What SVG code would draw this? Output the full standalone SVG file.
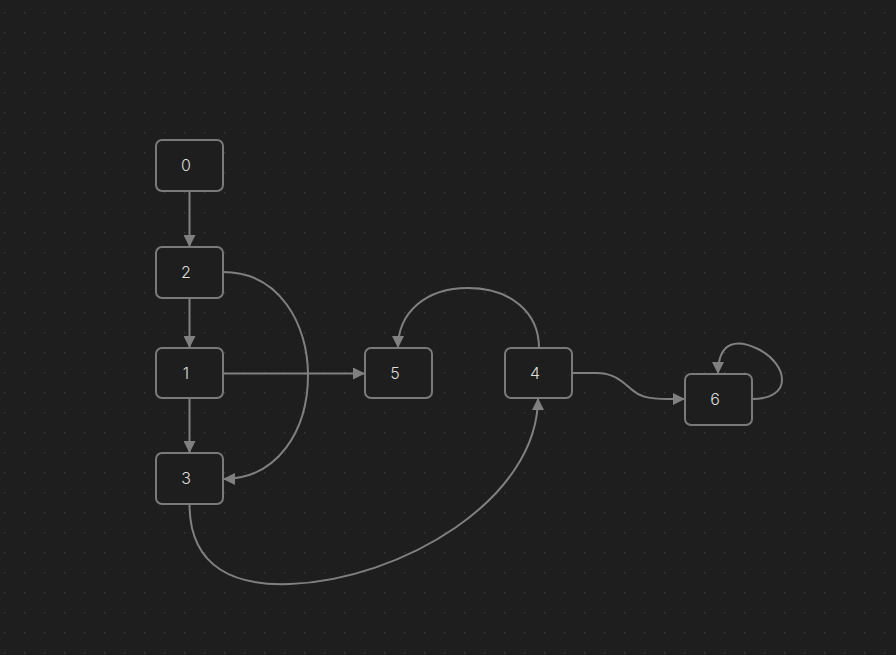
<svg xmlns="http://www.w3.org/2000/svg" width="896" height="655" viewBox="0 0 896 655">
<defs>
<pattern id="dots" x="0" y="0" width="20" height="20" patternUnits="userSpaceOnUse">
<rect x="4" y="12" width="1.3" height="1.3" fill="#3a3a3a"/>
</pattern>
<marker id="arr" viewBox="0 0 12 12" refX="12" refY="6" markerWidth="12" markerHeight="12" markerUnits="userSpaceOnUse" orient="auto">
<path d="M0,0 L12,6 L0,12 Z" fill="#808080"/>
</marker>
<style>
.n rect{fill:#1e1e1e;stroke:#7a7a7a;stroke-width:2}
.n text{fill:#dcdcdc;font-family:Inter,"Liberation Sans",sans-serif;font-size:16px;font-weight:300;text-anchor:middle}
.e path{fill:none;stroke:#808080;stroke-width:2;marker-end:url(#arr)}
</style>
</defs>
<rect width="896" height="655" fill="#1e1e1e"/>
<rect width="896" height="655" fill="url(#dots)"/>
<g id="connectors" class="e">
<path d="M189.5,191 L189.5,247"/>
<path d="M189.5,298 L189.5,348"/>
<path d="M189.5,398 L189.5,453"/>
<path d="M223,373.5 L365,373.5"/>
<path d="M223,272 C280,272 308,325 308,375 C308,430 278,479 223,479"/>
<path d="M539,348 C539,312 510,288 468,288 C426,288 398,312 398,348"/>
<path d="M189.5,504 C189.5,570 238,586 290,584 C400,580 538,500 538,398"/>
<path d="M572,373 L596,373 C614,373 622,381 631,389 C639,396 646,399 668,399 L685,399"/>
<path d="M752,399 C794,399 788,364 758,349 C738,339 718,340 718,374"/>
</g>
<g id="node-0" class="n"><rect x="156" y="140" width="67" height="51" rx="6"/><text x="186" y="171">0</text></g>
<g id="node-2" class="n"><rect x="156" y="247" width="67" height="51" rx="6"/><text x="186" y="278">2</text></g>
<g id="node-1" class="n"><rect x="156" y="348" width="67" height="50" rx="6"/><text x="186" y="379">1</text></g>
<g id="node-3" class="n"><rect x="156" y="453" width="67" height="51" rx="6"/><text x="186" y="484">3</text></g>
<g id="node-5" class="n"><rect x="365" y="348" width="67" height="50" rx="6"/><text x="395" y="379">5</text></g>
<g id="node-4" class="n"><rect x="505" y="348" width="67" height="50" rx="6"/><text x="535" y="379">4</text></g>
<g id="node-6" class="n"><rect x="685" y="374" width="67" height="51" rx="6"/><text x="715" y="405">6</text></g>
</svg>
